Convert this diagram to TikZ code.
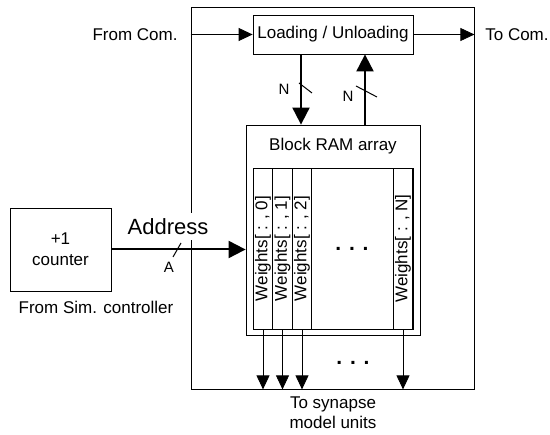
\documentclass[tikz,border=0pt]{standalone}
\usepackage{fontspec}
\setmainfont{Liberation Sans}
\usetikzlibrary{arrows.meta}

\begin{document}
\begin{tikzpicture}[x=1pt,y=-1pt,>={Triangle[length=14pt,width=13pt]},line width=0.8pt,font=\fontsize{17}{21}\selectfont]
	\tikzstyle{rec}=[rectangle,draw,inner sep=0pt]
	\tikzstyle{col}=[rectangle,draw,rotate=90,minimum width=161pt,minimum height=19.5pt,inner sep=0pt]
	\tikzstyle{bus}=[line width=2pt,>={Triangle[length=17pt,width=17pt]}]
	\tikzstyle{lbl}=[anchor=base,inner sep=0pt]
	\tikzstyle{dots}=[lbl,font=\fontsize{21}{25}\selectfont\bfseries]
	\useasboundingbox (0,0) rectangle (550,435);

	% module frame and its blocks
	\node[rec,minimum width=283pt,minimum height=382pt] (MOD) at (332.5,198) {};
	\node[rec,minimum width=160pt,minimum height=39pt] (LU) at (333,34.5) {Loading / Unloading};
	\node[rec,minimum width=174pt,minimum height=210pt] (BRAM) at (333,230) {};
	\node[lbl] (BT) at (333,151) {Block RAM array};
	\node[rec,minimum width=101pt,minimum height=83pt,text width=90pt,align=center] (CNT) at (60.5,249.5) {+1\\counter};
	\node[lbl] (SIM) at (96,314) {From Sim. controller};

	% weight columns
	\draw (253,168) rectangle (413,329);
	\node[col] (W0) at (263,248.5) {Weights[ : , 0]};
	\node[col] (W1) at (282.5,248.5) {Weights[ : , 1]};
	\node[col] (W2) at (302,248.5) {Weights[ : , 2]};
	\node[col] (WN) at (403,248.5) {Weights[ : , N]};
	\node[dots] (D1) at (352,251) {. . .};
	\node[dots] (D2) at (353,365) {. . .};

	% communication side
	\node[lbl] (FC) at (135,40.5) {From Com.};
	\node[lbl] (TC) at (517,40.5) {To Com.};
	\path (MOD.west |- LU) edge[->] (LU);
	\path (LU) edge[->] (MOD.east |- LU);
	\draw[bus,->] ([xshift=-32pt]LU.south) -- ([xshift=-32pt]LU.south |- BRAM.north);
	\draw[bus,->] ([xshift=32pt]LU.south |- BRAM.north) -- ([xshift=32pt]LU.south);
	\coordinate (SN1) at (301,86);
	\coordinate (SN2) at (365,91);
	\draw[line width=1pt] (SN1) ++(-2,-3) -- ++(13,10);
	\draw[line width=1pt] (SN2) ++(-9,-5) -- ++(21,11);
	\node[lbl,font=\fontsize{15}{18}\selectfont] (N1) at (284,95) {N};
	\node[lbl,font=\fontsize{15}{18}\selectfont] (N2) at (348,102) {N};

	% address bus
	\draw[bus,->] (CNT) -- (BRAM.west |- CNT);
	\node[fill=white,minimum height=27pt,inner xsep=1pt,inner ysep=0pt,font=\fontsize{22}{26}\selectfont] (ADR) at (168,227) {Address};
	\coordinate (SA) at (177,250);
	\draw[line width=1pt] (SA) ++(4,-7) -- ++(-8,14);
	\node[lbl,font=\fontsize{15}{18}\selectfont] (A) at (169,273) {A};

	% outputs to synapse units
	\draw[->] (W0.west) -- (W0.west |- MOD.south);
	\draw[->] (W1.west) -- (W1.west |- MOD.south);
	\draw[->] (W2.west) -- (W2.west |- MOD.south);
	\draw[->] (WN.west) -- (WN.west |- MOD.south);
	\node[lbl] (SY1) at (333,409) {To synapse};
	\node[lbl] (SY2) at (333,429) {model units};
\end{tikzpicture}
\end{document}
